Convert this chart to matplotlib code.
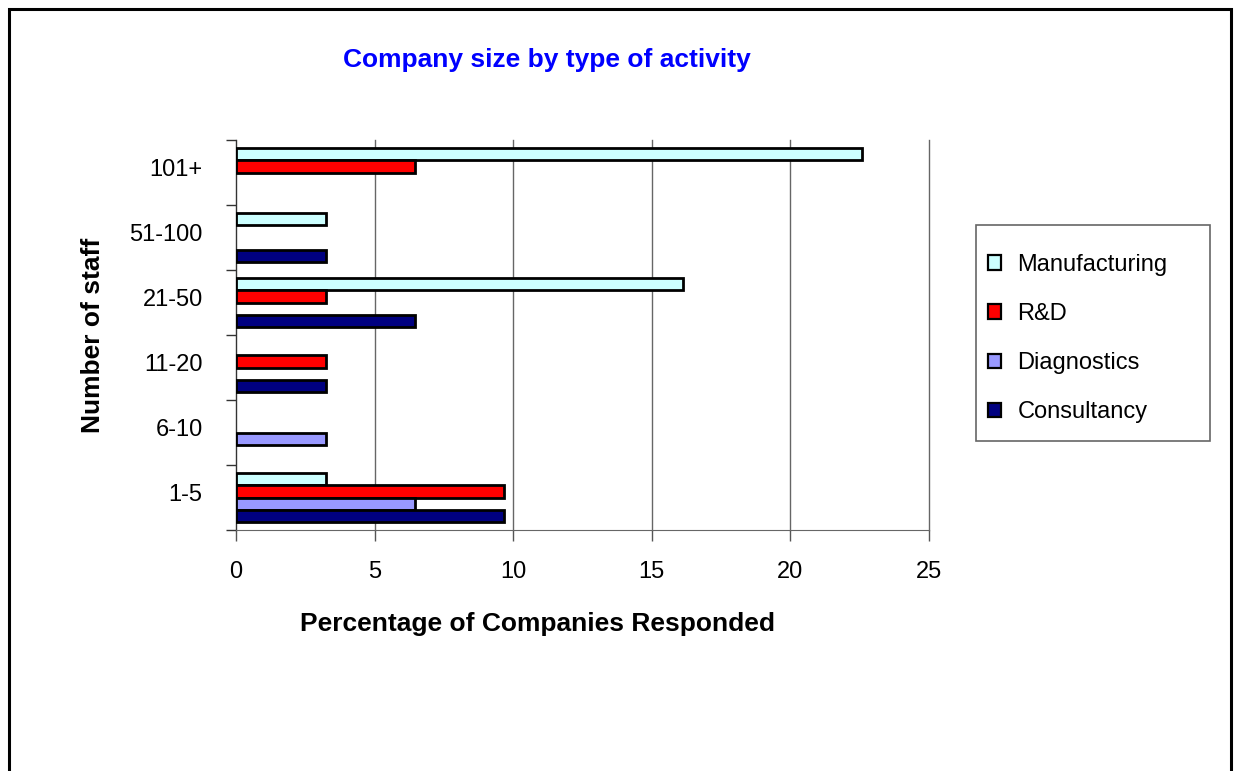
import numpy as np
import matplotlib
matplotlib.use("Agg")
import matplotlib.pyplot as plt
import matplotlib.transforms as mtransforms
from matplotlib.patches import Rectangle

plt.rcParams['font.family'] = ['Liberation Sans', 'DejaVu Sans']

# staff size bands, bottom to top
sizes = ['1-5', '6-10', '11-20', '21-50', '51-100', '101+']

# percentage of the 31 companies that responded
manufacturing = [3.23, 0, 0, 16.13, 3.23, 22.58]
rnd = [9.68, 0, 3.23, 3.23, 0, 6.45]
diagnostics = [6.45, 3.23, 0, 0, 0, 0]
consultancy = [9.68, 0, 3.23, 6.45, 3.23, 0]

series = [('Manufacturing', manufacturing, '#CCFFFF'),
          ('R&D', rnd, '#FF0000'),
          ('Diagnostics', diagnostics, '#9999FF'),
          ('Consultancy', consultancy, '#000080')]

fig = plt.figure(figsize=(12.35, 7.71), dpi=100, facecolor='white')
ax = fig.add_axes([236/1235, 1-530/771, (929-236)/1235, (530-140)/771])

h = 0.1885
ypos = np.arange(len(sizes))
offsets = [1.5, 0.5, -0.5, -1.5]
handles = []
for (name, vals, col), off in zip(series, offsets):
    vals = np.array(vals, dtype=float)
    keep = vals > 0  # no bar for empty cells
    ax.barh(ypos[keep] + off*h, vals[keep], height=h, color=col,
            edgecolor='black', linewidth=2, zorder=3)
    handles.append(Rectangle((0, 0), 1, 1, facecolor=col, edgecolor='black', linewidth=1.6))

ax.set_xlim(0, 25)
ax.set_ylim(-0.5, len(sizes) - 0.5)
ax.set_xticks([0, 5, 10, 15, 20, 25])
ax.tick_params(axis='x', labelsize=17, length=8, width=1, color='#555555', pad=14)
ax.xaxis.grid(True, color='#666666', linewidth=1, zorder=0)
for gl in ax.get_xgridlines():
    gl.set_clip_on(False)

ax.set_yticks(ypos)
ax.set_yticklabels(sizes, fontsize=17)
ax.set_yticks(np.arange(-0.5, len(sizes)), minor=True)
ax.tick_params(axis='y', which='major', length=0, pad=24)
ax.tick_params(axis='y', which='minor', length=7, width=1, color='#333333')
nudge = mtransforms.ScaledTranslation(0, 5/100, fig.dpi_scale_trans)
for lab in ax.get_yticklabels():
    lab.set_transform(lab.get_transform() + nudge)

for s in ['top', 'right']:
    ax.spines[s].set_visible(False)
ax.spines['bottom'].set_color('#666666')
ax.spines['left'].set_color('#333333')
ax.set_facecolor('white')

fig.text(547/1235, 1-60/771, 'Company size by type of activity', color='#0000FF',
         fontsize=19, fontweight='bold', ha='center', va='center')
fig.text(538/1235, 1-624/771, 'Percentage of Companies Responded',
         fontsize=19, fontweight='bold', ha='center', va='center')
fig.text(93/1235, 1-335/771, 'Number of staff', rotation=90,
         fontsize=19, fontweight='bold', ha='center', va='center')

# legend box drawn separately so its size is fixed
fig.patches.append(Rectangle((976/1235, 1-441/771), (1210-976)/1235, (441-225)/771,
                             transform=fig.transFigure, facecolor='white',
                             edgecolor='#666666', linewidth=1.2))
fig.legend(handles, [s[0] for s in series], loc='center left',
           bbox_to_anchor=(988/1235, 1-338.5/771), frameon=False, fontsize=17,
           handlelength=0.55, handleheight=0.55, handletextpad=0.7,
           labelspacing=1.15, borderpad=0, borderaxespad=0)

# outer frame
fig.patches.append(Rectangle((9/1235, -0.05), (1231-9)/1235, 1.05 - 9/771,
                             transform=fig.transFigure, fill=False,
                             edgecolor='black', linewidth=2.2))

fig.savefig('out.png', dpi=100, facecolor='white')
